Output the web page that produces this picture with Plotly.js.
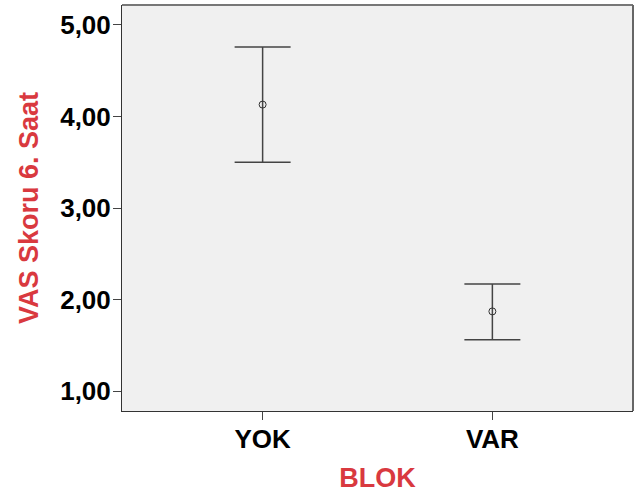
<!DOCTYPE html>
<html>
<head>
<meta charset="utf-8">
<script src="https://cdn.plot.ly/plotly-3.0.1.min.js"></script>
<style>
html,body{margin:0;padding:0;background:#fff;}
#chart{width:642px;height:497px;}
</style>
</head>
<body>
<div id="chart"></div>
<script>
const categories = ["YOK", "VAR"];
const means = [4.13, 1.87];
const upper = [4.76, 2.17];
const lower = [3.50, 1.56];
const yTickVals = [1, 2, 3, 4, 5];

const plus = means.map((m, i) => upper[i] - m);
const minus = means.map((m, i) => m - lower[i]);

const trace = {
  type: "scatter",
  mode: "markers",
  x: categories,
  y: means,
  marker: {symbol: "circle-open", size: 7, color: "#333", line: {width: 1, color: "#333"}},
  error_y: {type: "data", symmetric: false, array: plus, arrayminus: minus,
            width: 28, thickness: 1.5, color: "#444"},
  hoverinfo: "skip"
};

const fam = "Liberation Sans, Arial, sans-serif";
const yTickFont = {family: fam, size: 26, color: "#000", weight: 700};
const xTickFont = {family: fam, size: 26, color: "#000", weight: 700};
const titleFont = {family: fam, size: 27, color: "#d9393f", weight: 700};

const layout = {
  width: 642, height: 497,
  margin: {l: 122, r: 9, t: 5, b: 86},
  paper_bgcolor: "#fff",
  plot_bgcolor: "#f0f0f0",
  showlegend: false,
  separators: ",.",
  xaxis: {
    type: "category",
    range: [-0.612, 1.612],
    showgrid: false, zeroline: false,
    showline: true, linecolor: "#333", linewidth: 1,
    ticks: "outside", ticklen: 8, tickcolor: "#444", tickwidth: 1,
    ticklabelstandoff: -3,
    tickfont: xTickFont,
    title: {text: "BLOK", font: titleFont, standoff: 14}
  },
  yaxis: {
    range: [0.782, 5.218],
    tickvals: yTickVals,
    tickformat: ".2f",
    showgrid: false, zeroline: false,
    showline: true, linecolor: "#333", linewidth: 1,
    ticks: "outside", ticklen: 8, tickcolor: "#444", tickwidth: 1,
    ticklabelstandoff: -3,
    tickfont: yTickFont,
    title: {text: "VAS Skoru 6. Saat", font: titleFont, standoff: 13}
  },
  shapes: [
    {type: "line", xref: "paper", yref: "paper", x0: 0, x1: 1, y0: 1, y1: 1, line: {color: "#777", width: 2}},
    {type: "line", xref: "paper", yref: "paper", x0: 1, x1: 1, y0: 0, y1: 1, line: {color: "#666", width: 2}}
  ]
};

Plotly.newPlot("chart", [trace], layout, {displayModeBar: false, staticPlot: true});
</script>
</body>
</html>
